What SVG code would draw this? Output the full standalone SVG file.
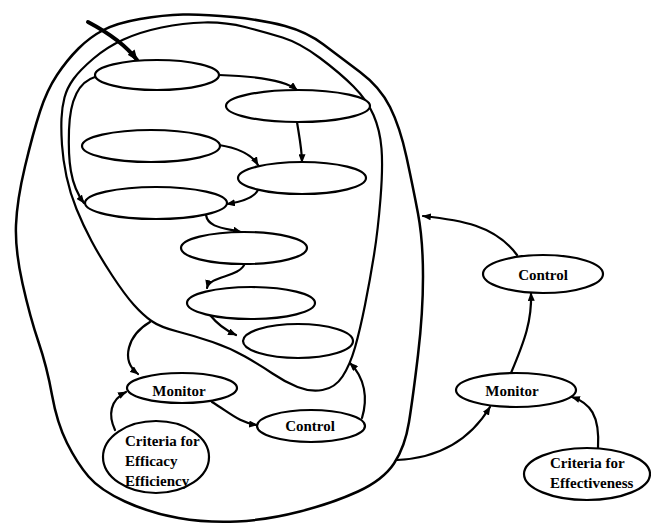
<svg xmlns="http://www.w3.org/2000/svg" width="651" height="526" viewBox="0 0 651 526">
<style>
.loop{fill:none;stroke:#000;stroke-width:2.5;stroke-linejoin:round}
.edge{fill:none;stroke:#000;stroke-width:2.2;stroke-linecap:round}
.node{fill:#fff;stroke:#000;stroke-width:2.2}
.lbl{font-family:"Liberation Serif","Times New Roman",serif;font-weight:bold;font-size:15px;fill:#000}
.mid{text-anchor:middle}
</style>
<defs>
<marker id="ah" viewBox="0 0 10 8" refX="9" refY="4" markerWidth="9" markerHeight="7" markerUnits="userSpaceOnUse" orient="auto">
<path d="M0,0 L10,4 L0,8 Z" fill="#000"/>
</marker>
<marker id="ahb" viewBox="0 0 10 8" refX="9" refY="4" markerWidth="11" markerHeight="9" markerUnits="userSpaceOnUse" orient="auto">
<path d="M0,0 L10,4 L0,8 Z" fill="#000"/>
</marker>
</defs>
<g id="loops">
<path id="outer-loop" class="loop" d="M140,19 Q163,15 183,14.5 Q203,14 233,17 Q263,20 285,26 Q307,32 323.5,44.5 Q340,57 360,72 Q380,87 390,107 Q400,127 406.5,157 Q413,187 418,213.5 Q423,240 423,276.5 Q423,313 418,355 Q413,397 409,422 Q405,447 394,463.5 Q383,480 358,491.5 Q333,503 300,511.5 Q267,520 237,521.5 Q207,523 178.5,518 Q150,513 125,501.5 Q100,490 88.5,476.5 Q77,463 67,443 Q57,423 52,395 Q47,367 38.5,342 Q30,317 22.5,283.5 Q15,250 16,225 Q17,200 25,166.5 Q33,133 40,111.5 Q47,90 57,75 Q67,60 78.5,48.5 Q90,37 103.5,30 Q117,23 140,19 Z"/>
<path id="inner-loop" class="loop" style="stroke-width:2.2" d="M64.5,97.5 Q67,88 73.5,79 Q80,70 93.5,58.5 Q107,47 123.5,39.5 Q140,32 161.5,27.5 Q183,23 204,22.5 Q225,22 245,27 Q265,32 282.5,37.5 Q300,43 320,58 Q340,73 353.5,86.5 Q367,100 373.5,115 Q380,130 381.5,148.5 Q383,167 380.5,198.5 Q378,230 374,255 Q370,280 365,305 Q360,330 355,347.5 Q350,365 342.5,376.5 Q335,388 322.5,390 Q310,392 297.5,387 Q285,382 272.5,373.5 Q260,365 245,356.5 Q230,348 212.5,342 Q195,336 177.5,331.5 Q160,327 151.5,321 Q143,315 134,305 Q125,295 112.5,276 Q100,257 91.5,241 Q83,225 76.5,209 Q70,193 66.5,176.5 Q63,160 62,145 Q61,130 61.5,118.5 Q62,107 64.5,97.5 Z"/>
</g>
<g id="connectors">
<path class="edge" style="stroke-width:4" marker-end="url(#ahb)" d="M88,22 Q122,40 137,60"/>
<path class="edge" marker-end="url(#ah)" d="M219,75 C255,76 285,80 297,90"/>
<path class="edge" marker-end="url(#ah)" d="M297,122 C299,135 302,150 302,162"/>
<path class="edge" marker-end="url(#ah)" d="M219,145 C238,148 252,155 258,165"/>
<path class="edge" marker-end="url(#ah)" d="M258,190 C254,198 240,202 227,204"/>
<path class="edge" marker-end="url(#ah)" d="M206,215 C208,228 225,228 241,232"/>
<path class="edge" marker-end="url(#ah)" d="M245,263 C240,278 210,275 207,288"/>
<path class="edge" marker-end="url(#ah)" d="M210,315 C218,325 225,330 236,335"/>
<path class="edge" marker-end="url(#ah)" d="M95,77 C78,82 70,100 69,130 C68,160 70,185 84,203"/>
<path class="edge" marker-end="url(#ah)" d="M150,322 C128,335 120,360 138,374"/>
<path class="edge" marker-end="url(#ah)" d="M115,430 C108,415 110,400 126,392"/>
<path class="edge" marker-end="url(#ah)" d="M212,402 C230,413 240,423 257,425"/>
<path class="edge" marker-end="url(#ah)" d="M362,418 C368,398 365,378 350,363"/>
<path class="edge" marker-end="url(#ah)" d="M397,460 C440,458 470,440 490,407"/>
<path class="edge" marker-end="url(#ah)" d="M511,373 C525,340 532,320 531,293"/>
<path class="edge" marker-end="url(#ah)" d="M598,448 C600,415 590,403 572,397"/>
<path class="edge" marker-end="url(#ah)" d="M517,255 C495,225 460,220 423,216"/>
</g>
<g id="n1"><ellipse class="node" cx="157" cy="75" rx="62" ry="15"/></g>
<g id="n2"><ellipse class="node" cx="298" cy="106" rx="72" ry="16"/></g>
<g id="n3"><ellipse class="node" cx="151" cy="146" rx="69" ry="16"/></g>
<g id="n4"><ellipse class="node" cx="302" cy="178" rx="64" ry="16"/></g>
<g id="n5"><ellipse class="node" cx="156" cy="203" rx="71" ry="16"/></g>
<g id="n6"><ellipse class="node" cx="244" cy="248" rx="63" ry="16"/></g>
<g id="n7"><ellipse class="node" cx="251" cy="303" rx="64" ry="16"/></g>
<g id="n8"><ellipse class="node" cx="298" cy="341" rx="55" ry="17"/></g>
<g id="monitor-left"><ellipse class="node" cx="182" cy="388" rx="55" ry="15"/><text class="lbl mid" x="179" y="396">Monitor</text></g>
<g id="control-left"><ellipse class="node" cx="311" cy="426" rx="54" ry="16"/><text class="lbl mid" x="310" y="431">Control</text></g>
<g id="criteria-left"><ellipse class="node" cx="156" cy="457" rx="53" ry="36"/><text class="lbl" x="125" y="446">Criteria for</text><text class="lbl" x="125" y="466">Efficacy</text><text class="lbl" x="125" y="486">Efficiency</text></g>
<g id="control-right"><ellipse class="node" cx="543" cy="274" rx="60" ry="19"/><text class="lbl mid" x="543" y="280">Control</text></g>
<g id="monitor-right"><ellipse class="node" cx="516" cy="390" rx="60" ry="17"/><text class="lbl mid" x="512" y="396">Monitor</text></g>
<g id="criteria-right"><ellipse class="node" cx="587" cy="474" rx="63" ry="26"/><text class="lbl" x="550" y="468">Criteria for</text><text class="lbl" x="550" y="488">Effectiveness</text></g>
</svg>
